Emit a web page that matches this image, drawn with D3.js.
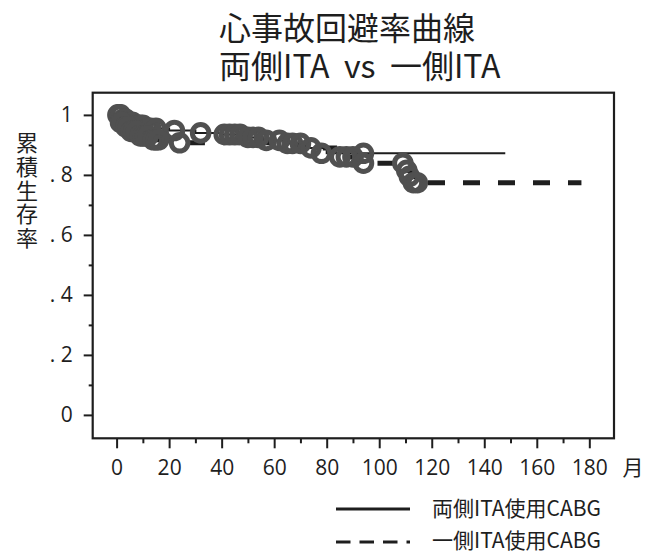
<!DOCTYPE html>
<html>
<head>
<meta charset="utf-8">
<script src="https://cdn.jsdelivr.net/npm/d3@7"></script>
<style>
  body { margin: 0; background: #fff; }
</style>
</head>
<body>
<div id="chart"></div>
<script>
// KM curve: 両側ITA (solid)
var biTimes = [0, 2, 4, 7, 11, 20, 30, 40, 48, 56, 64, 72, 80];
var biSurv  = [1.0, 0.985, 0.975, 0.965, 0.955, 0.948, 0.94, 0.935, 0.925, 0.915, 0.905, 0.89, 0.872];
var biEnd = 148;
// censored cases, 両側
var biCensT = [0.5, 1, 1.5, 2.5, 3, 3.5, 5, 6, 8, 9, 10, 12, 13, 15, 22, 32, 41, 43, 45, 47, 50, 52, 54, 57, 62, 65, 67, 70, 74, 78, 94];
var biCensS = [1.0, 1.0, 1.0, 0.985, 0.985, 0.985, 0.975, 0.975, 0.965, 0.965, 0.965, 0.955, 0.955, 0.955, 0.948, 0.94, 0.935, 0.935, 0.935, 0.935, 0.925, 0.925, 0.925, 0.915, 0.915, 0.905, 0.905, 0.905, 0.89, 0.872, 0.872];

// KM curve: 一側ITA (dashed)
var uniTimes = [0, 1, 3, 5, 8, 13, 23, 62, 70, 83, 93, 110, 112, 113];
var uniSurv  = [1.0, 0.975, 0.96, 0.945, 0.93, 0.917, 0.907, 0.9, 0.89, 0.86, 0.839, 0.815, 0.795, 0.774];
var uniEnd = 177;
var uniCensT = [1.5, 2, 3.5, 4.5, 5.5, 6.5, 7.5, 9, 10, 11, 12, 14, 15, 16, 24, 85, 87.5, 90, 94, 109, 110.5, 111.5, 113, 114.5];
var uniCensS = [0.975, 0.975, 0.96, 0.96, 0.945, 0.945, 0.945, 0.93, 0.93, 0.93, 0.93, 0.917, 0.917, 0.917, 0.907, 0.86, 0.86, 0.86, 0.839, 0.839, 0.815, 0.795, 0.774, 0.774];

var xMajor = [0, 20, 40, 60, 80, 100, 120, 140, 160, 180];
var xMinor = [10, 30, 50, 70, 90, 110, 130, 150, 170];
var yMajor = [0, 0.2, 0.4, 0.6, 0.8, 1];
var yMinor = [0.1, 0.3, 0.5, 0.7, 0.9];
var yTickLabels = ["0", ". 2", ". 4", ". 6", ". 8", "1"];

var titleLines = ["心事故回避率曲線", "両側ITA\u00a0\u00a0vs\u00a0\u00a0一側ITA"];
var yTitle = "累積生存率";
var xUnit = "月";
var legendLabels = ["両側ITA使用CABG", "一側ITA使用CABG"];

var svgWidth = 661, svgHeight = 553;
var box = {left: 92.7, top: 92.7, right: 614, bottom: 438.3};
var numFont = "'Open Sans', 'DejaVu Sans', sans-serif";
var cjkFont = "'Noto Sans CJK JP', 'Noto Sans', sans-serif";
var ink = "#1e1e1e";

var svg = d3.select("#chart")
    .append("svg")
    .attr("width", svgWidth)
    .attr("height", svgHeight);

var x = d3.scaleLinear().domain([-9.1, 189.4]).range([box.left, box.right]);
var y = d3.scaleLinear().domain([-0.078, 1.074]).range([box.bottom, box.top]);

// title, two lines in one text
svg.append("text")
    .attr("font-family", cjkFont)
    .attr("font-size", 32)
    .attr("fill", ink)
    .selectAll("tspan")
    .data(titleLines)
    .enter()
    .append("tspan")
    .attr("x", 219)
    .attr("y", (d, i) => 40 + i * 38)
    .text(d => d);

// x axis
function styleAxis(g) {
    g.select(".domain").remove();
    g.selectAll("line").attr("stroke", ink).attr("stroke-width", 2);
    g.selectAll("text").attr("font-family", numFont).attr("font-size", 21).attr("fill", ink);
}
svg.append("g")
    .attr("transform", `translate(0, ${box.bottom})`)
    .call(d3.axisBottom(x).tickValues(xMinor).tickSize(5).tickFormat("").tickSizeOuter(0))
    .call(styleAxis);
svg.append("g")
    .attr("transform", `translate(0, ${box.bottom})`)
    .call(d3.axisBottom(x).tickValues(xMajor).tickSize(10).tickPadding(12).tickSizeOuter(0))
    .call(styleAxis);

// y axis
svg.append("g")
    .attr("transform", `translate(${box.left}, 0)`)
    .call(d3.axisLeft(y).tickValues(yMinor).tickSize(4).tickFormat("").tickSizeOuter(0))
    .call(styleAxis);
svg.append("g")
    .attr("transform", `translate(${box.left}, 0)`)
    .call(d3.axisLeft(y).tickValues(yMajor).tickSize(9).tickPadding(11).tickSizeOuter(0)
        .tickFormat((d, i) => yTickLabels[i]))
    .call(styleAxis);

// plot frame
svg.append("rect")
    .attr("x", box.left)
    .attr("y", box.top)
    .attr("width", box.right - box.left)
    .attr("height", box.bottom - box.top)
    .attr("fill", "none")
    .attr("stroke", ink)
    .attr("stroke-width", 2.2);

// y title, written vertically
svg.append("text")
    .attr("x", 27)
    .attr("y", 132)
    .style("writing-mode", "vertical-rl")
    .style("letter-spacing", "1.6px")
    .attr("font-family", cjkFont)
    .attr("font-size", 22)
    .attr("fill", ink)
    .text(yTitle);

svg.append("text")
    .attr("x", 633)
    .attr("y", 467)
    .attr("dy", "0.36em")
    .attr("text-anchor", "middle")
    .attr("font-family", cjkFont)
    .attr("font-size", 21)
    .attr("fill", ink)
    .text(xUnit);

// survival curves
var step = d3.line()
    .x(d => x(d[0]))
    .y(d => y(d[1]))
    .curve(d3.curveStepAfter);

var biPts = biTimes.map((t, i) => [t, biSurv[i]]);
biPts.push([biEnd, biSurv[biSurv.length - 1]]);
var uniPts = uniTimes.map((t, i) => [t, uniSurv[i]]);
uniPts.push([uniEnd, uniSurv[uniSurv.length - 1]]);

var uniPath = svg.append("path")
    .datum(uniPts)
    .attr("d", step)
    .attr("fill", "none")
    .attr("stroke", ink)
    .attr("stroke-width", 5)
    .attr("stroke-dasharray", "17 18");
// line the dashes of the tail up so one starts at 428px
var total = uniPath.node().getTotalLength();
var tailStart = total - (x(uniEnd) - x(uniTimes[uniTimes.length - 1]));
var d0 = tailStart + (428 - x(uniTimes[uniTimes.length - 1]));
uniPath.attr("stroke-dashoffset", 35 - (d0 % 35));

svg.append("path")
    .datum(biPts)
    .attr("d", step)
    .attr("fill", "none")
    .attr("stroke", ink)
    .attr("stroke-width", 2);

// censor marks
var cens = biCensT.map((t, i) => [t, biCensS[i]])
    .concat(uniCensT.map((t, i) => [t, uniCensS[i]]));
svg.append("g")
    .selectAll("circle")
    .data(cens)
    .enter()
    .append("circle")
    .attr("cx", d => x(d[0]))
    .attr("cy", d => y(d[1]))
    .attr("r", 8.3)
    .attr("fill", "none")
    .attr("stroke", "#505050")
    .attr("stroke-width", 5);

// legend
var legend = svg.append("g");
legend.selectAll("line")
    .data(legendLabels)
    .enter()
    .append("line")
    .attr("x1", 336)
    .attr("x2", 410)
    .attr("y1", (d, i) => 509 + i * 33)
    .attr("y2", (d, i) => 509 + i * 33)
    .attr("stroke", ink)
    .attr("stroke-width", 3)
    .attr("stroke-dasharray", (d, i) => i == 1 ? "14.5 9" : null);
legend.selectAll("text")
    .data(legendLabels)
    .enter()
    .append("text")
    .attr("x", 432)
    .attr("y", (d, i) => 508 + i * 32)
    .attr("dy", "0.36em")
    .attr("font-family", cjkFont)
    .attr("font-size", 21)
    .attr("fill", ink)
    .text(d => d);
</script>
</body>
</html>
